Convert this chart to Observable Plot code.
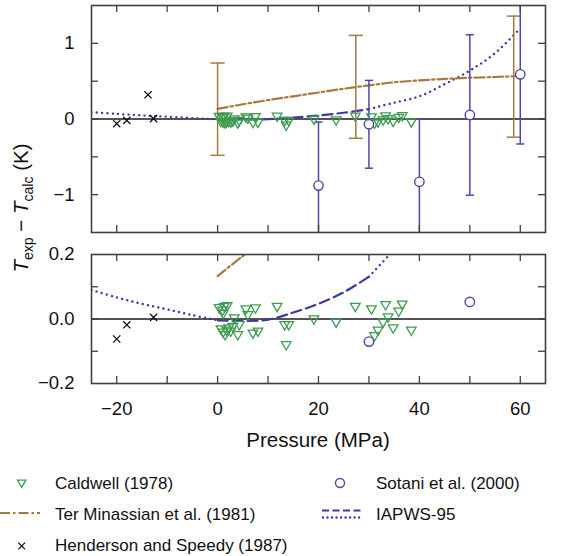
<!DOCTYPE html>
<html><head><meta charset="utf-8">
<script src="https://cdn.jsdelivr.net/npm/d3@7"></script>
<script src="https://cdn.jsdelivr.net/npm/@observablehq/plot@0.6"></script>
<style>
body{margin:0;background:#fff;}
#wrap{position:relative;width:561px;height:556px;font-family:"Liberation Sans",Arial,Helvetica,sans-serif;}
#wrap svg{position:absolute;left:0;}
</style></head><body><div id="wrap"></div>
<script>
// ---------------- data ----------------
const caldwellP = [0.3, 1.0, 1.3, 1.9, 1.1, 3.3, 4.3, 5.6, 6.0, 7.5,
  0.66, 1.1, 1.5, 1.8, 2.2, 2.6, 3.0, 4.0, 7.0, 8.0,
  11.8, 13.3, 14.1, 13.6, 19.1, 23.5, 27.3, 30.5, 33.3, 36.6,
  35.9, 33.8, 32.8, 34.8, 31.8, 31.1, 38.4];
const caldwellV = [0.036, 0.028, 0.040, 0.042, 0.018, 0.004, -0.017, 0.032, 0.014, 0.035,
  -0.030, -0.040, -0.048, -0.034, -0.027, -0.037, -0.022, -0.048, -0.043, -0.037,
  0.040, -0.017, -0.017, -0.079, 0.001, -0.009, 0.040, 0.032, 0.045, 0.047,
  0.025, 0.007, -0.009, -0.027, -0.034, -0.051, -0.034];

const sotaniP = [20, 30, 40, 50, 60];
const sotaniV = [-0.88, -0.07, -0.83, 0.053, 0.59];
const sotaniErr = [0.84, 0.58, 0.83, 1.06, 0.92];

const terP = [0, 5, 10, 15, 20, 25, 30, 35, 40, 45, 50, 55, 59];
const terV = [0.133, 0.195, 0.25, 0.30, 0.35, 0.40, 0.445, 0.485, 0.51, 0.53, 0.545, 0.555, 0.565];
const terErrP = [0, 27.4, 58.7];
const terErrV = [0.13, 0.425, 0.56];
const terErrE = [0.61, 0.68, 0.80];

const hsP = [-20, -18, -13.8, -12.7];
const hsV = [-0.062, -0.018, 0.32, 0.005];

const iapwsP = [-25, -20, -15, -10, -5, 0, 5, 10, 15, 20, 25, 30, 35, 40, 45, 50, 55, 60];
const iapwsV = [0.09, 0.067, 0.047, 0.03, 0.012, -0.004, -0.006, -0.002, 0.02, 0.047, 0.083, 0.131, 0.215, 0.30, 0.46, 0.64, 0.87, 1.2];
const iapwsRange = [0, 30]; // dashed inside, dotted outside

const xDomain = [-25, 65];
const xTickLabels = [-20, 0, 20, 40, 60];
const xTickMarks = [-20, -10, 0, 10, 20, 30, 40, 50, 60];
const topYDomain = [-1.5, 1.5], topYLabels = [-1, 0, 1], topYMarks = [-1, -0.5, 0, 0.5, 1];
const botYDomain = [-0.2, 0.2], botYLabels = [-0.2, 0, 0.2], botYMarks = [-0.1, 0, 0.1];

const legendItems = ["Caldwell (1978)", "Ter Minassian et al. (1981)", "Henderson and Speedy (1987)", "Sotani et al. (2000)", "IAPWS-95"];

// ---------------- build tables ----------------
const caldwell = caldwellP.map((p, i) => ({p, v: caldwellV[i]}));
const sotani = sotaniP.map((p, i) => ({p, v: sotaniV[i], e: sotaniErr[i]}));
const ter = terP.map((p, i) => ({p, v: terV[i]}));
const terErr = terErrP.map((p, i) => ({p, v: terErrV[i], e: terErrE[i]}));
const hs = hsP.map((p, i) => ({p, v: hsV[i]}));
const iapws = iapwsP.map((p, i) => ({p, v: iapwsV[i]}));

// ---------------- style ----------------
const W = 561, ML = 91, MR = 16, TL = 7;
const FONT = '"Liberation Sans", Arial, Helvetica, sans-serif';
const GREEN = "#3e9c50", BLUE = "#4848a8", BROWN = "#a8783f", IAPWS = "#3a3aa6", FRAME = "#404040";
const DOT = {strokeWidth: 2.4, strokeLinecap: "round", strokeDasharray: "0.01,5.3"};
const DASH = {strokeWidth: 2.2, strokeDasharray: "10,5"};

const triDown = {draw(ctx, size) { const a = Math.sqrt(size / Math.PI), h = a * Math.sqrt(3);
  ctx.moveTo(-a, -h / 3); ctx.lineTo(a, -h / 3); ctx.lineTo(0, 2 * h / 3); ctx.closePath(); }};
const times = {draw(ctx, size) { const a = Math.sqrt(size / Math.PI);
  ctx.moveTo(-a, -a); ctx.lineTo(a, a); ctx.moveTo(-a, a); ctx.lineTo(a, -a); }};
const cap = {draw(ctx, size) { const a = Math.sqrt(size / Math.PI); ctx.moveTo(-a, 0); ctx.lineTo(a, 0); }};

function panel({height, mt, mb, yDomain, yLabels, yMarks, yFormat, showX, errors}) {
  const fh = height - mt - mb, fw = W - ML - MR;
  const marks = [
    Plot.ruleY([0], {stroke: "#1a1a1a", strokeWidth: 1.3}),
    Plot.line(iapws.filter(d => d.p <= iapwsRange[0]), {x: "p", y: "v", stroke: IAPWS, ...DOT, curve: "catmull-rom", clip: true}),
    Plot.line(iapws.filter(d => d.p >= iapwsRange[0] && d.p <= iapwsRange[1]), {x: "p", y: "v", stroke: IAPWS, ...DASH, curve: "catmull-rom", clip: true}),
    Plot.line(iapws.filter(d => d.p >= iapwsRange[1]), {x: "p", y: "v", stroke: IAPWS, ...DOT, curve: "catmull-rom", clip: true}),
    Plot.line(ter, {x: "p", y: "v", stroke: BROWN, strokeWidth: 2.2, strokeDasharray: "10,3,2.5,3", curve: "catmull-rom", clip: true})
  ];
  if (errors) {
    marks.push(
      Plot.ruleX(terErr, {x: "p", y1: d => d.v - d.e, y2: d => d.v + d.e, stroke: BROWN, strokeWidth: 1.5, clip: true}),
      Plot.dot(terErr, {x: "p", y: d => d.v - d.e, symbol: cap, r: 7, stroke: BROWN, strokeWidth: 1.5, fill: "none", clip: true}),
      Plot.dot(terErr, {x: "p", y: d => d.v + d.e, symbol: cap, r: 7, stroke: BROWN, strokeWidth: 1.5, fill: "none", clip: true}),
      Plot.ruleX(sotani, {x: "p", y1: d => d.v - d.e, y2: d => d.v + d.e, stroke: BLUE, strokeWidth: 1.5, clip: true}),
      Plot.dot(sotani, {x: "p", y: d => d.v - d.e, symbol: cap, r: 4, stroke: BLUE, strokeWidth: 1.5, fill: "none", clip: true}),
      Plot.dot(sotani, {x: "p", y: d => d.v + d.e, symbol: cap, r: 4, stroke: BLUE, strokeWidth: 1.5, fill: "none", clip: true})
    );
  }
  marks.push(
    Plot.dot(caldwell, {x: "p", y: "v", symbol: triDown, r: 4.8, stroke: GREEN, strokeWidth: 1.3, fill: "none", clip: true}),
    Plot.dot(sotani, {x: "p", y: "v", symbol: "circle", r: 4.7, stroke: BLUE, strokeWidth: 1.4, fill: "white", clip: true}),
    Plot.dot(hs, {x: "p", y: "v", symbol: times, r: 3.6, stroke: "#111", strokeWidth: 1.3, clip: true}),
    Plot.ruleX(xTickMarks, {x: d => d, insetTop: fh - TL, stroke: FRAME, strokeWidth: 1.3}),
    Plot.ruleX(xTickMarks, {x: d => d, insetBottom: fh - TL, stroke: FRAME, strokeWidth: 1.3}),
    Plot.ruleY(yMarks, {y: d => d, insetRight: fw - TL, stroke: FRAME, strokeWidth: 1.3}),
    Plot.ruleY(yMarks, {y: d => d, insetLeft: fw - TL, stroke: FRAME, strokeWidth: 1.3}),
    Plot.frame({stroke: FRAME, strokeWidth: 1.6})
  );
  return Plot.plot({
    width: W, height, marginLeft: ML, marginRight: MR, marginTop: mt, marginBottom: mb,
    style: {fontFamily: FONT, fontSize: "18.5px", color: "#111", background: "transparent", overflow: "visible"},
    x: showX ? {domain: xDomain, ticks: xTickLabels, tickSize: 0, tickPadding: 18, tickFormat: d3.format("d"), label: null}
             : {domain: xDomain, axis: null},
    y: {domain: yDomain, ticks: yLabels, tickSize: 0, tickPadding: 17, tickFormat: yFormat, label: null},
    marks
  });
}

const wrap = document.getElementById("wrap");
const topPlot = panel({height: 240, mt: 5, mb: 8, yDomain: topYDomain, yLabels: topYLabels, yMarks: topYMarks, yFormat: d3.format("d"), showX: false, errors: true});
topPlot.style.top = "0px";
wrap.appendChild(topPlot);
const botPlot = panel({height: 180, mt: 14, mb: 37, yDomain: botYDomain, yLabels: botYLabels, yMarks: botYMarks, yFormat: d3.format(".1f"), showX: true, errors: false});
botPlot.style.top = "240px";
wrap.appendChild(botPlot);

// ---------------- overlay: axis titles + legend ----------------
const svg = d3.select(wrap).append("svg").attr("width", W).attr("height", 556).style("top", "0px")
  .style("font-family", FONT).style("overflow", "visible");

const yl = svg.append("text").attr("transform", "translate(28,208) rotate(-90)")
  .attr("text-anchor", "middle").attr("font-size", 20.5).attr("fill", "#111");
yl.append("tspan").attr("font-style", "italic").text("T");
yl.append("tspan").attr("font-size", 14).attr("dy", 5).text("exp");
yl.append("tspan").attr("dy", -5).text(" \u2212 ");
yl.append("tspan").attr("font-style", "italic").text("T");
yl.append("tspan").attr("font-size", 14).attr("dy", 5).text("calc");
yl.append("tspan").attr("dy", -5).text(" (K)");

svg.append("text").attr("x", 318).attr("y", 447).attr("text-anchor", "middle")
  .attr("font-size", 20.5).attr("fill", "#111").text("Pressure (MPa)");

const LFS = 17;
const rows = [489, 519.5, 550.5];
const g = svg.append("g").attr("font-size", LFS).attr("fill", "#111");
// col 1
g.append("path").attr("d", d3.symbol(triDown, Math.PI * 4.2 * 4.2)()).attr("transform", `translate(21.7,${rows[0] - 6.5})`)
  .attr("fill", "none").attr("stroke", GREEN).attr("stroke-width", 1.3);
g.append("text").attr("x", 55).attr("y", rows[0]).text(legendItems[0]);
g.append("line").attr("x1", 0).attr("x2", 40).attr("y1", rows[1] - 6.5).attr("y2", rows[1] - 6.5)
  .attr("stroke", BROWN).attr("stroke-width", 2.2).attr("stroke-dasharray", "10,3,2.5,3");
g.append("text").attr("x", 55).attr("y", rows[1]).text(legendItems[1]);
g.append("path").attr("d", d3.symbol(times, Math.PI * 3.4 * 3.4)()).attr("transform", `translate(21.7,${rows[2] - 4.5})`)
  .attr("fill", "none").attr("stroke", "#111").attr("stroke-width", 1.3);
g.append("text").attr("x", 55).attr("y", rows[2]).text(legendItems[2]);
// col 2
g.append("circle").attr("cx", 340).attr("cy", rows[0] - 6).attr("r", 4.5).attr("fill", "none").attr("stroke", BLUE).attr("stroke-width", 1.4);
g.append("text").attr("x", 376).attr("y", rows[0]).text(legendItems[3]);
g.append("line").attr("x1", 322).attr("x2", 363).attr("y1", rows[1] - 9).attr("y2", rows[1] - 9)
  .attr("stroke", IAPWS).attr("stroke-width", 2.2).attr("stroke-dasharray", "7,3.5");
g.append("line").attr("x1", 323).attr("x2", 363).attr("y1", rows[1] - 2).attr("y2", rows[1] - 2)
  .attr("stroke", IAPWS).attr("stroke-width", 2.4).attr("stroke-linecap", "round").attr("stroke-dasharray", "0.01,4.5");
g.append("text").attr("x", 376).attr("y", rows[1]).text(legendItems[4]);
</script></body></html>
